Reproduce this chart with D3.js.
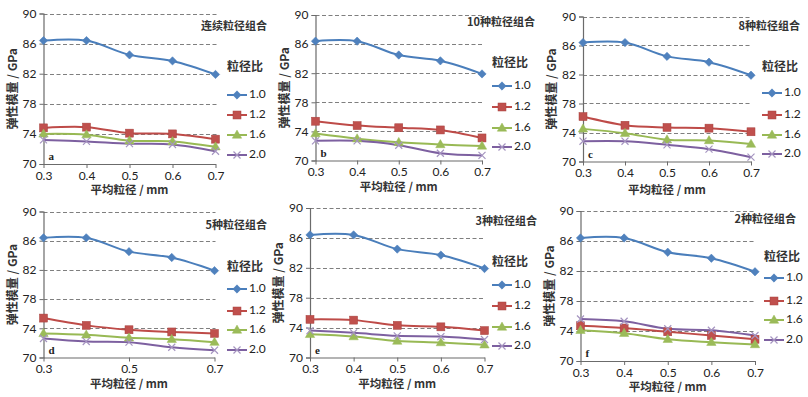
<!DOCTYPE html>
<html><head><meta charset="utf-8">
<script src="https://cdn.jsdelivr.net/npm/d3@7"></script>
<style>
html,body{margin:0;padding:0;background:#fff;}
svg{display:block;}
</style></head>
<body><svg id="chart" width="808" height="397"></svg>
<script>
// ---------- data ----------
const categories = [0.3, 0.4, 0.5, 0.6, 0.7];
const ratios = ["1.0", "1.2", "1.6", "2.0"];
const yTicks = [70, 74, 78, 82, 86, 90];
const panelTitles = ["连续粒径组合", "10种粒径组合", "8种粒径组合", "5种粒径组合", "3种粒径组合", "2种粒径组合"];
const panelLetters = ["a", "b", "c", "d", "e", "f"];
const legendTitle = "粒径比";
const xTitle = "平均粒径 / mm";
const yTitle = "弹性模量 / GPa";

const a10 = [86.4, 86.4, 84.5, 83.7, 81.9];
const a12 = [74.8, 74.9, 74.1, 74.0, 73.3];
const a16 = [74.0, 73.9, 73.1, 73.0, 72.3];
const a20 = [73.2, 73.0, 72.7, 72.6, 71.7];

const b10 = [86.4, 86.4, 84.5, 83.7, 81.9];
const b12 = [75.4, 74.8, 74.5, 74.2, 73.1];
const b16 = [73.7, 73.0, 72.5, 72.2, 72.0];
const b20 = [72.7, 72.7, 72.1, 71.0, 70.7];

const c10 = [86.4, 86.4, 84.5, 83.7, 81.9];
const c12 = [76.2, 75.0, 74.7, 74.6, 74.1];
const c16 = [74.5, 73.9, 73.0, 72.9, 72.4];
const c20 = [72.8, 72.8, 72.3, 71.7, 70.6];

const d10 = [86.4, 86.4, 84.5, 83.7, 81.9];
const d12 = [75.4, 74.4, 73.8, 73.5, 73.3];
const d16 = [73.3, 73.1, 72.7, 72.5, 72.1];
const d20 = [72.6, 72.2, 72.1, 71.4, 71.0];

const e10 = [86.4, 86.4, 84.5, 83.7, 81.9];
const e12 = [75.1, 75.0, 74.3, 74.1, 73.6];
const e16 = [73.1, 72.8, 72.2, 72.0, 71.7];
const e20 = [73.6, 73.3, 72.9, 72.8, 72.4];

const f10 = [86.4, 86.4, 84.5, 83.7, 81.9];
const f12 = [74.7, 74.4, 73.9, 73.4, 72.9];
const f16 = [74.1, 73.7, 72.9, 72.5, 72.2];
const f20 = [75.6, 75.3, 74.3, 74.1, 73.4];

const panelSeries = [
  [a10, a12, a16, a20],
  [b10, b12, b16, b20],
  [c10, c12, c16, c20],
  [d10, d12, d16, d20],
  [e10, e12, e16, e20],
  [f10, f12, f16, f20]
];
const panelXTicks = [
  categories, categories, categories,
  [0.3, 0.5, 0.7], categories, categories
];

// ---------- layout & style ----------
const layouts = [
  {x0: 43.5, x1: 215.5, y0: 13.5, y1: 164, titleR: 267, titleY: 27, legX: 227, legTY: 68, legY: [95, 115, 135, 155], xtY: 191},
  {x0: 315.5, x1: 482, y0: 15, y1: 160.5, titleR: 535, titleY: 23, legX: 492, legTY: 64, legY: [86, 107, 128, 147], xtY: 188},
  {x0: 583, x1: 751, y0: 16.5, y1: 161.5, titleR: 800, titleY: 27, legX: 762, legTY: 68, legY: [93, 115, 135, 154], xtY: 191},
  {x0: 43.5, x1: 214.5, y0: 211.5, y1: 357.5, titleR: 267, titleY: 226, legX: 227, legTY: 268, legY: [289, 311, 330, 350], xtY: 385},
  {x0: 310, x1: 484.5, y0: 208, y1: 357.5, titleR: 537, titleY: 222, legX: 492, legTY: 263, legY: [285, 306, 327, 346], xtY: 385},
  {x0: 580.5, x1: 755, y0: 211, y1: 361, titleR: 796, titleY: 220, legX: 764, legTY: 258, legY: [278, 301, 320, 340], xtY: 388}
];
const lineColors = ["#4a7ebb", "#be4b48", "#98b954", "#7d60a0"];
const markColors = ["#4f81bd", "#c0504d", "#9bbb59", "#8064a2"];
const numFont = "Lato, 'Liberation Sans', sans-serif";
const cjkFont = "'Noto Sans CJK SC', sans-serif";
const serifFont = "'Liberation Serif', 'DejaVu Serif', serif";

const svg = d3.select("#chart");

function drawMarker(g, k, x, y) {
  const c = markColors[k];
  if (k === 0) {
    g.append("path").attr("d", d3.symbol(d3.symbolDiamond2, 44)()).attr("transform", `translate(${x},${y})`).attr("fill", c).attr("stroke", c).attr("stroke-width", 0.6);
  } else if (k === 1) {
    g.append("rect").attr("x", x - 4).attr("y", y - 4).attr("width", 8).attr("height", 8).attr("fill", c).attr("stroke", "#a8423f").attr("stroke-width", 0.5);
  } else if (k === 2) {
    g.append("path").attr("d", d3.symbol(d3.symbolTriangle, 38)()).attr("transform", `translate(${x},${y + 0.5})`).attr("fill", c).attr("stroke", c).attr("stroke-width", 0.5);
  } else {
    g.append("path").attr("d", d3.symbol(d3.symbolX, 34)()).attr("transform", `translate(${x},${y})`).attr("fill", "none").attr("stroke", "#a594c0").attr("stroke-width", 1.2);
  }
}

layouts.forEach((L, p) => {
  const g = svg.append("g");
  const x = d3.scaleLinear().domain([categories[0], categories[categories.length - 1]]).range([L.x0, L.x1]);
  const y = d3.scaleLinear().domain([70, 90]).range([L.y1, L.y0]);

  // gridlines
  g.append("g").selectAll("line").data(yTicks.slice(1)).join("line")
    .attr("x1", L.x0).attr("x2", L.x1 + 1)
    .attr("y1", d => Math.round(y(d)) + 0.5).attr("y2", d => Math.round(y(d)) + 0.5)
    .attr("stroke", "#7f7f7f").attr("stroke-width", 1.1).attr("stroke-dasharray", "4,2.5");

  // y axis
  const ya = g.append("g").attr("transform", `translate(${L.x0},0)`)
    .call(d3.axisLeft(y).tickValues(yTicks).tickSize(4).tickPadding(3).tickFormat(d3.format("d")));
  ya.select(".domain").attr("stroke", "#6b6b6b").attr("stroke-width", 1.2);
  ya.selectAll(".tick line").attr("stroke", "#6b6b6b");
  ya.selectAll("text").attr("font-family", numFont).attr("font-size", 12).attr("fill", "#222");

  // x axis
  const xa = g.append("g").attr("transform", `translate(0,${L.y1})`)
    .call(d3.axisBottom(x).tickValues(panelXTicks[p]).tickSize(4).tickPadding(3).tickFormat(d3.format(".1f")).tickSizeOuter(0));
  xa.select(".domain").attr("stroke", "#6b6b6b").attr("stroke-width", 1.2);
  xa.selectAll(".tick line").attr("stroke", "#6b6b6b");
  xa.selectAll("text").attr("font-family", numFont).attr("font-size", 12).attr("fill", "#222");

  // series
  const line = d3.line().x((d, i) => x(categories[i])).y(d => y(d)).curve(d3.curveCatmullRom.alpha(0.5));
  panelSeries[p].forEach((vals, k) => {
    g.append("path").datum(vals).attr("d", line).attr("fill", "none")
      .attr("stroke", lineColors[k]).attr("stroke-width", 2);
  });
  panelSeries[p].forEach((vals, k) => {
    vals.forEach((v, i) => drawMarker(g, k, x(categories[i]), y(v)));
  });

  // panel letter
  g.append("text").attr("x", L.x0 + 5).attr("y", L.y1 - 4).text(panelLetters[p])
    .attr("font-family", serifFont).attr("font-weight", "bold").attr("font-size", 11).attr("fill", "#222");

  // panel title
  g.append("text").attr("x", L.titleR).attr("y", L.titleY).attr("text-anchor", "end").attr("dominant-baseline", "middle")
    .text(panelTitles[p]).attr("font-family", cjkFont).attr("font-weight", "bold").attr("font-size", 11).attr("fill", "#333");

  // legend
  g.append("text").attr("x", L.legX).attr("y", L.legTY).attr("dominant-baseline", "middle")
    .text(legendTitle).attr("font-family", cjkFont).attr("font-weight", "bold").attr("font-size", 12).attr("fill", "#333");
  ratios.forEach((r, k) => {
    const ly = L.legY[k];
    g.append("line").attr("x1", L.legX).attr("x2", L.legX + 20).attr("y1", ly).attr("y2", ly)
      .attr("stroke", lineColors[k]).attr("stroke-width", 2);
    drawMarker(g, k, L.legX + 10, ly);
    g.append("text").attr("x", L.legX + 22).attr("y", ly).attr("dominant-baseline", "middle")
      .text(r).attr("font-family", numFont).attr("font-size", 12).attr("fill", "#222");
  });

  // axis titles
  g.append("text").attr("x", (L.x0 + L.x1) / 2).attr("y", L.xtY).attr("text-anchor", "middle").attr("dominant-baseline", "middle")
    .text(xTitle).attr("font-family", cjkFont).attr("font-weight", "bold").attr("font-size", 11.5).attr("fill", "#333");
  g.append("text").attr("transform", `translate(${L.x0 - 30},${(L.y0 + L.y1) / 2}) rotate(-90)`)
    .attr("text-anchor", "middle").attr("dominant-baseline", "middle")
    .text(yTitle).attr("font-family", cjkFont).attr("font-weight", "bold").attr("font-size", 12).attr("fill", "#333");
});
</script>
</body></html>
